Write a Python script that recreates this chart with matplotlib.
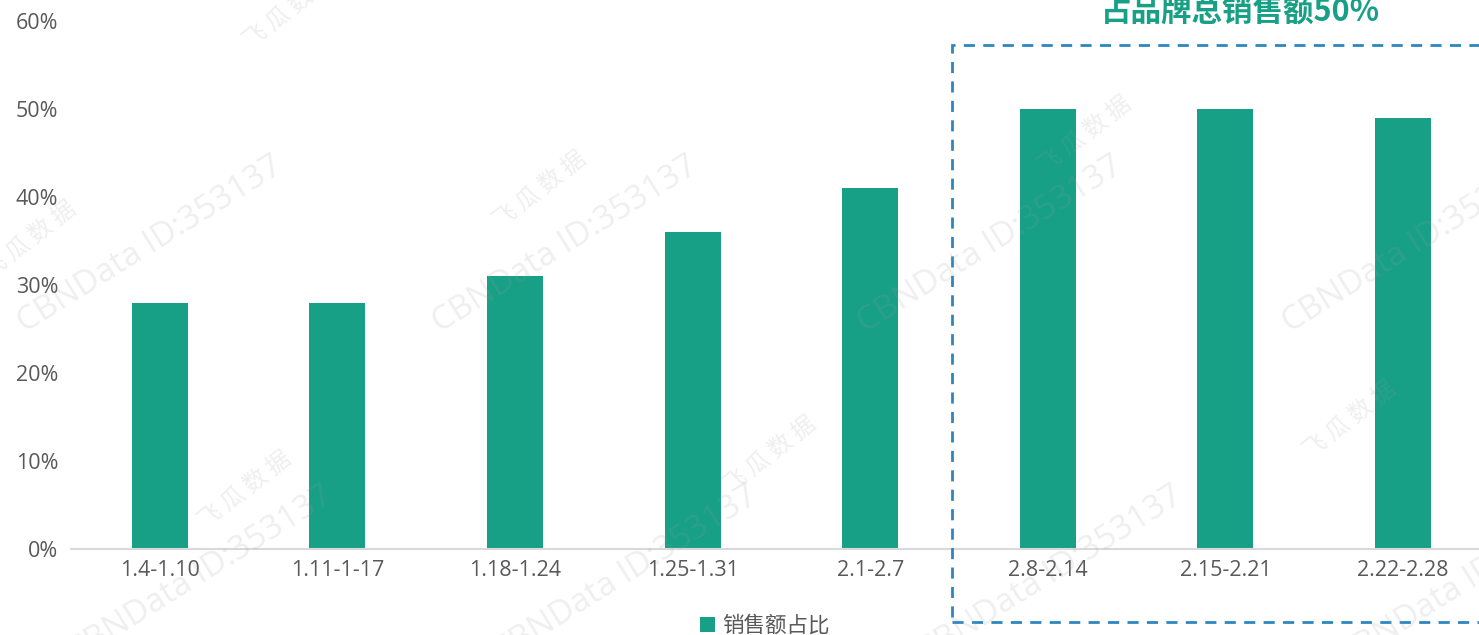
import matplotlib
matplotlib.use("Agg")
import matplotlib.pyplot as plt
from matplotlib.patches import Rectangle

plt.rcParams['font.family'] = ['Open Sans', 'Noto Sans CJK SC', 'DejaVu Sans']

# data
weeks = ["1.4-1.10", "1.11-1-17", "1.18-1.24", "1.25-1.31", "2.1-2.7",
         "2.8-2.14", "2.15-2.21", "2.22-2.28"]
share = [0.28, 0.28, 0.31, 0.36, 0.41, 0.50, 0.50, 0.49]
series_name = "销售额占比"
callout = "占品牌总销售额50%"
y_ticks = [0, 0.1, 0.2, 0.3, 0.4, 0.5, 0.6]

GREEN = "#17A086"
GREY_TXT = "#595959"

W, H = 1479, 635
fig = plt.figure(figsize=(W / 100, H / 100), dpi=100)
# axes runs past the right edge, like the cropped original
ax = fig.add_axes([71 / W, (H - 549) / H, 1420.8 / W, 528 / H])

x = range(len(weeks))
ax.bar(x, share, width=0.315, color=GREEN, zorder=3, label=series_name)
ax.set_xlim(-0.5, len(weeks) - 0.5)
ax.set_ylim(0, 0.6)
ax.set_yticks(y_ticks)
ax.set_yticklabels([f"{int(round(v * 100))}%" for v in y_ticks])
ax.set_xticks(list(x))
ax.set_xticklabels(weeks)
ax.tick_params(axis="both", length=0, labelsize=15.5, colors=GREY_TXT)
ax.tick_params(axis="x", pad=8)
ax.tick_params(axis="y", pad=9)
for s in ("top", "right", "left"):
    ax.spines[s].set_visible(False)
ax.spines["bottom"].set_color("#D9D9D9")
ax.spines["bottom"].set_linewidth(1.5)
ax.spines["bottom"].set_zorder(4)

leg = fig.legend(loc="center", bbox_to_anchor=(765 / W, 1 - 626 / H),
                 frameon=False, handlelength=0.7, handleheight=0.7,
                 handletextpad=0.35, prop={"family": ["Noto Sans CJK SC"], "size": 15.5})
for t in leg.get_texts():
    t.set_color(GREY_TXT)

# dashed highlight box (figure pixel coords)
box = Rectangle((952 / W, 1 - 622 / H), 600 / W, (622 - 45) / H,
                transform=fig.transFigure, fill=False, edgecolor="#2E86C1",
                linestyle=(0, (4, 3)), linewidth=2, zorder=5)
fig.add_artist(box)
fig.text(1240 / W, 1 - 12 / H, callout, ha="center", va="center",
         fontsize=22, fontweight="bold", color=GREEN,
         family=["Noto Sans CJK SC"])

# faint watermark tiling
for cx, cy in [(150, 245), (565, 245), (990, 245), (1415, 245),
               (200, 575), (625, 575), (1050, 575), (1470, 580)]:
    fig.text(cx / W, 1 - cy / H, "CBNData ID:353137", rotation=32,
             ha="center", va="center", fontsize=24, color="#9a9a9a",
             alpha=0.16, zorder=6)
for cx, cy in [(30, 240), (540, 190), (1085, 135), (290, 10),
               (245, 490), (770, 455), (1350, 420)]:
    fig.text(cx / W, 1 - cy / H, "飞 瓜 数 据", rotation=38,
             ha="center", va="center", fontsize=17, color="#9a9a9a",
             alpha=0.16, zorder=6, family=["Noto Sans CJK SC"])

fig.savefig("out.png", dpi=100)
